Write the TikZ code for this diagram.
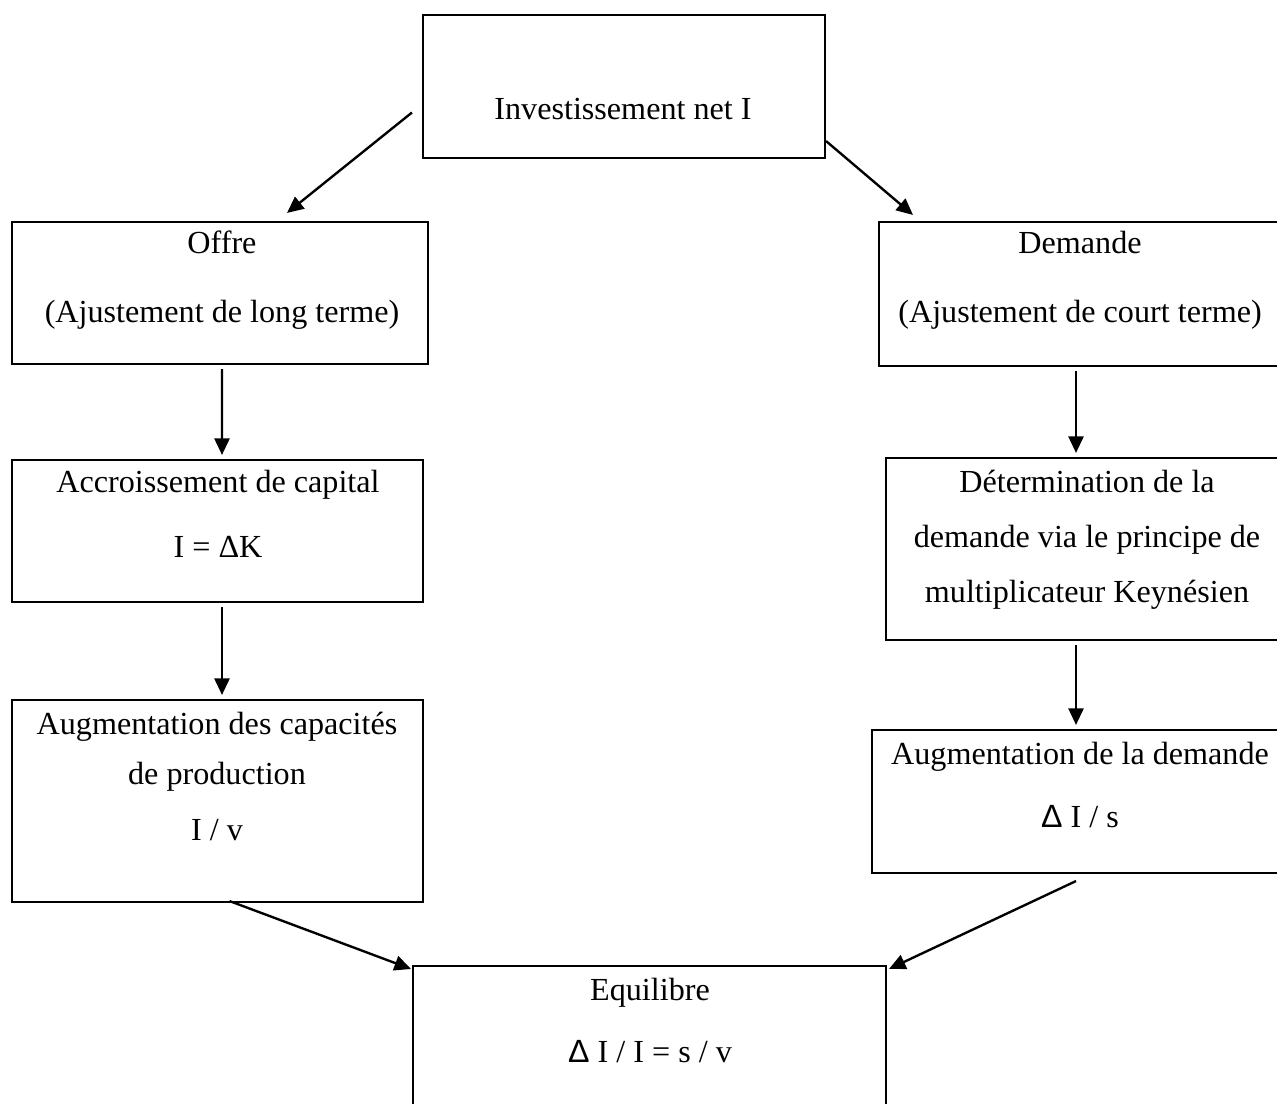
\documentclass[tikz,border=0pt]{standalone}
\usepackage{fontspec}
\setmainfont{Liberation Serif}
\newfontfamily\sansdelta{Liberation Sans}
\usepackage{tikz}
\usetikzlibrary{arrows.meta,calc,positioning}

\tikzset{
  boite/.style={draw, line width=1.2pt, inner sep=0pt},
  texte/.style={anchor=base, inner sep=0pt, font=\fontsize{18.3}{22}\selectfont},
  fleche/.style={-{Triangle[length=0.33cm,width=0.3cm]}, line width=1.35pt}
}

\begin{document}
\begin{tikzpicture}[x=0.02cm,y=-0.02cm]
\clip (0,0) rectangle (1277,1104);

\node[boite, minimum width=8.04cm, minimum height=2.86cm] (inv) at (624,86.5) {};
\node[boite, minimum width=8.32cm, minimum height=2.84cm] (offre) at (220,293) {};
\node[boite, minimum width=8.12cm, minimum height=2.88cm] (demande) at (1082,294) {};
\node[boite, minimum width=8.22cm, minimum height=2.84cm] (accr) at (217.5,531) {};
\node[boite, minimum width=8.04cm, minimum height=3.64cm] (determ) at (1087,549) {};
\node[boite, minimum width=8.22cm, minimum height=4.04cm] (augcap) at (217.5,801) {};
\node[boite, minimum width=8.32cm, minimum height=2.86cm] (augdem) at (1080,801.5) {};
\node[boite, minimum width=9.46cm, minimum height=3.28cm] (equil) at (649.5,1048) {};

\node[texte] (inv-t) at (623,120) {Investissement net I};

\node[texte] (offre-t1) at (222,254) {Offre};
\node[texte] (offre-t2) at (222,323) {(Ajustement de long terme)};

\node[texte] (demande-t1) at (1080,254) {Demande};
\node[texte] (demande-t2) at (1080,323) {(Ajustement de court terme)};

\node[texte] (accr-t1) at (218,492) {Accroissement de capital};
\node[texte] (accr-t2) at (218,557) {I = ΔK};

\node[texte] (determ-t1) at (1087,492) {Détermination de la};
\node[texte] (determ-t2) at (1087,547) {demande via le principe de};
\node[texte] (determ-t3) at (1087,602) {multiplicateur Keynésien};

\node[texte] (augcap-t1) at (217,734) {Augmentation des capacités};
\node[texte] (augcap-t2) at (217,784) {de production};
\node[texte] (augcap-t3) at (217,840) {I / v};

\node[texte] (augdem-t1) at (1080,764) {Augmentation de la demande};
\node[texte] (augdem-t2) at (1080,827) {{\sansdelta Δ} I / s};

\node[texte] (equil-t1) at (650,1000) {Equilibre};
\node[texte] (equil-t2) at (650,1062) {{\sansdelta Δ} I / I = s / v};

\draw[fleche] ($(inv.west)+(-10,26)$) -- ($(offre.north)+(67,-8)$);
\draw[fleche] ($(inv.south east)+(0,-18)$) -- ($(demande.north west)+(35,-6)$);

\draw[fleche] ($(offre.south)+(2,4)$) -- ($(accr.north)+(4.5,-4)$);
\draw[fleche] ($(accr.south)+(4.5,4)$) -- ($(augcap.north)+(4.5,-4)$);

\draw[fleche] ($(demande.south)+(-6,4)$) -- ($(determ.north)+(-11,-4)$);
\draw[fleche] ($(determ.south)+(-11,4)$) -- ($(augdem.north)+(-4,-4)$);

\draw[fleche] ($(augcap.south)+(12,-2)$) -- ($(equil.north west)+(-1,4)$);
\draw[fleche] ($(augdem.south)+(-4,7)$) -- ($(equil.north east)+(2,4)$);

\end{tikzpicture}
\end{document}
